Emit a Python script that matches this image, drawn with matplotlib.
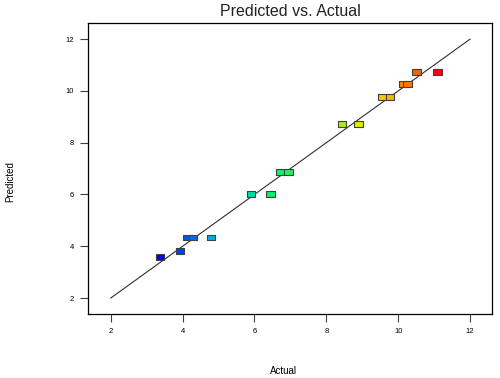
import numpy as np
import matplotlib.pyplot as plt
from matplotlib.colors import LinearSegmentedColormap
from matplotlib.path import Path

# actual vs predicted values
actual = [3.37, 3.93, 4.12, 4.29, 4.79, 5.90, 6.45, 6.73, 6.95, 8.44, 8.90,
          9.55, 9.77, 10.15, 10.26, 10.51, 11.10]
predicted = [3.58, 3.81, 4.34, 4.34, 4.34, 6.02, 6.02, 6.86, 6.86, 8.72, 8.72,
             9.76, 9.76, 10.26, 10.26, 10.73, 10.73]
ticks = [2, 4, 6, 8, 10, 12]

plt.rcParams['font.family'] = ['Liberation Sans', 'DejaVu Sans']

cmap = LinearSegmentedColormap.from_list(
    'de', [(0, '#0000f0'), (0.2, '#00b8f0'), (0.4, '#00f070'),
           (0.68, '#b8f000'), (0.74, '#f8e800'), (0.82, '#f0c000'),
           (0.9, '#ff7000'), (0.95, '#f85000'), (1, '#ff0000')])

# flat rectangle marker
rect = Path([(-1.5, -1), (1.5, -1), (1.5, 1), (-1.5, 1), (-1.5, -1)], closed=True)

fig = plt.figure(figsize=(5, 3.78), dpi=100)
ax = fig.add_axes([0.176, 0.169, 0.808, 0.770])

ax.plot([2, 12], [2, 12], color='#303030', lw=0.8, zorder=1)
ax.scatter(actual, predicted, c=actual, cmap=cmap, marker=rect, s=38,
           edgecolors='#404040', linewidths=0.8, zorder=2)

ax.set_xlim(1.368, 12.61)
ax.set_ylim(1.38, 12.62)
ax.set_xticks(ticks)
ax.set_yticks(ticks)
ax.tick_params(direction='out', length=6, width=0.8, color='#404040',
               labelsize=5.5, pad=4)
for s in ax.spines.values():
    s.set_linewidth(0.9)

ax.set_title('Predicted vs. Actual', fontsize=11.5, pad=5, color='#222222')
fig.text(0.566, 0.005, 'Actual', fontsize=7, ha='center', va='bottom')
fig.text(0.02, 0.52, 'Predicted', fontsize=7, rotation=90, ha='center', va='center')

plt.savefig('out.png')
